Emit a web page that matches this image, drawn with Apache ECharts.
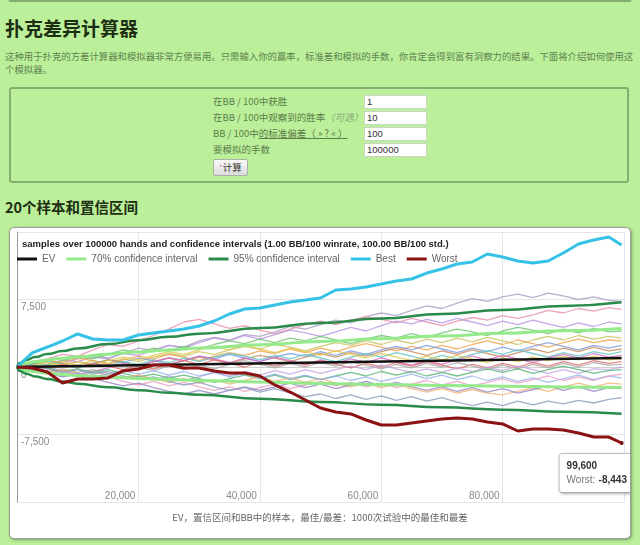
<!DOCTYPE html>
<html><head><meta charset="utf-8">
<script src="https://cdn.jsdelivr.net/npm/echarts@6/dist/echarts.min.js"></script>
<style>
html,body{margin:0;padding:0;}
body{width:640px;height:545px;overflow:hidden;position:relative;background:#bbef99;font-family:'Liberation Sans','Noto Sans CJK SC',sans-serif;}
.topline{position:absolute;left:8px;top:-4px;width:620px;height:2px;border:2px solid #86ad70;border-radius:3px;}
h1{position:absolute;left:5px;top:16px;margin:0;font:bold 19px/24px 'Noto Sans CJK SC',sans-serif;color:#1d2e12;}
.intro{position:absolute;left:5px;top:50px;margin:0;font:9.4px/13px 'Noto Sans CJK SC',sans-serif;color:#5f8350;white-space:nowrap;}
.form{position:absolute;left:9px;top:87px;width:616px;height:92px;border:2px solid #86ad70;border-radius:3px;}
.lbl{position:absolute;left:213px;font:9.5px/13px 'Noto Sans CJK SC',sans-serif;color:#5b7d4a;white-space:nowrap;}
.lbl i{color:#8aa67a;}
.lbl u{text-decoration:underline;}
.inp{position:absolute;left:364px;width:59px;height:12px;background:#fff;border:1px solid #c9d6c2;font:9.5px/12px 'Liberation Sans',sans-serif;color:#333;padding-left:2px;}
.btn{position:absolute;left:213px;top:159px;width:33px;height:15px;border:1px solid #a9b3a4;border-radius:2px;background:linear-gradient(#f8f8f8,#dcdcdc);font:9.5px/15px 'Noto Sans CJK SC',sans-serif;color:#333;text-align:center;}
.btn span{color:#d08090;font-size:7px;vertical-align:top;}
h2{position:absolute;left:5px;top:197px;margin:0;font:bold 14.5px/20px 'Noto Sans CJK SC',sans-serif;color:#1d2e12;}
.cbox{position:absolute;left:9px;top:227px;width:620px;height:310px;background:#fff;border:1px solid #9c9c9c;border-radius:5px;box-shadow:1px 1px 3px rgba(0,0,0,.35);}
#chart{position:absolute;left:0;top:0;width:620px;height:310px;}
</style></head>
<body>
<div class="topline"></div>
<h1>扑克差异计算器</h1>
<p class="intro">这种用于扑克的方差计算器和模拟器非常方便易用。只需输入你的赢率，标准差和模拟的手数，你肯定会得到富有洞察力的结果。下面将介绍如何使用这<br>个模拟器。</p>
<div class="form"></div>
<div class="lbl" style="top:95px">在BB / 100中获胜</div>
<div class="lbl" style="top:111px">在BB / 100中观察到的胜率<i>（可选）</i></div>
<div class="lbl" style="top:127px">BB / 100中<u>的标准偏差（ » ? « ）</u></div>
<div class="lbl" style="top:143px">要模拟的手数</div>
<div class="inp" style="top:95px">1</div>
<div class="inp" style="top:111px">10</div>
<div class="inp" style="top:127px">100</div>
<div class="inp" style="top:143px">100000</div>
<div class="btn"><span>*</span>计算</div>
<h2>20个样本和置信区间</h2>
<div class="cbox"><div id="chart"></div></div>
<script>
const CHART_TITLE = 'samples over 100000 hands and confidence intervals (1.00 BB/100 winrate, 100.00 BB/100 std.)';
const CAPTION = 'EV，置信区间和BB中的样本，最佳/最差：1000次试验中的最佳和最差';
const LEGEND_NAMES = ['EV', '70% confidence interval', '95% confidence interval', 'Best', 'Worst'];

const HANDS = [0,2500,5000,7500,10000,12500,15000,17500,20000,22500,25000,27500,30000,32500,35000,37500,40000,42500,45000,47500,50000,52500,55000,57500,60000,62500,65000,67500,70000,72500,75000,77500,80000,82500,85000,87500,90000,92500,95000,97500,99600];

const BEST = [0,1560,2220,2890,3670,3110,3000,3000,3560,3780,4000,4220,4560,5110,5890,6440,6560,6890,7220,7440,7670,8560,8670,8890,9220,9560,9780,10440,10890,11440,11670,12560,12220,11780,11560,11780,12670,13670,14110,14440,13560];
const WORST = [0,-110,-560,-1780,-1330,-1330,-1220,-440,-220,220,220,-110,-110,-440,-670,-670,-1000,-2000,-2780,-3670,-4560,-5000,-5220,-5890,-6440,-6440,-6220,-6000,-5780,-5670,-5780,-6110,-6330,-7110,-6890,-6890,-7000,-7330,-7780,-7780,-8443];

const EV_HANDS = [0, 99600];
const EV = [0, 996];

const CI_HANDS = [0,500,1500,3000,5000,7500,10000,15000,20000,25000,30000,40000,50000,60000,70000,80000,90000,99600];
const CI95_UPPER = [0,444,774,1104,1436,1772,2060,2551,2971,3349,3695,4320,4883,5400,5886,6343,6780,7182];
const CI95_LOWER = [0,-434,-744,-1044,-1336,-1622,-1860,-2251,-2571,-2849,-3095,-3520,-3883,-4200,-4486,-4743,-4980,-5190];
const CI70_UPPER = [0,238,417,600,785,976,1140,1424,1671,1894,2101,2480,2825,3147,3452,3741,4020,4278];
const CI70_LOWER = [0,-228,-387,-540,-685,-826,-940,-1124,-1271,-1394,-1501,-1680,-1825,-1947,-2052,-2141,-2220,-2286];

const S01 = [0,300,700,400,900,1300,1000,1500,2100,1800,2400,2200,2900,3300,3000,3600,3400,3900,4500,4200,4700,5200,4900,5600,6000,5700,6300,6800,6500,7100,7600,7300,7800,8100,7700,8200,7900,7500,7800,7400,7300];
const S02 = [0,500,900,1400,1200,1900,2500,2300,2900,3500,4200,5000,5300,4800,4300,4600,4100,3700,4200,4700,5100,4700,5200,5600,5300,4900,5400,5000,4600,5100,5500,5200,5700,5400,5800,6300,6000,6500,6200,6600,6400];
const S03 = [0,-200,300,800,600,1100,900,1500,1300,1900,2400,2100,2700,3200,2900,3500,3100,3600,4100,3800,3400,3900,4400,4000,4600,5100,4800,5300,4900,5400,5000,4600,5100,4700,5200,4800,4400,4900,4500,5000,4800];
const S04 = [0,400,200,700,1100,900,1400,1900,1600,2100,1800,2300,2000,2500,2900,2600,3100,2700,3200,2900,3400,3000,2600,3100,3500,3200,3700,3300,3800,4200,3900,3500,4000,4400,4100,3700,4200,3800,4300,3900,4000];
const S05 = [0,-300,100,500,200,700,400,900,600,1100,1500,1200,1700,1400,1900,2300,2000,2500,2200,1800,2300,2700,2400,2900,2500,3000,2600,3100,2700,3200,2800,3300,2900,2500,3000,3400,3000,3500,3100,3400,3200];
const S06 = [0,300,700,500,1000,700,300,800,1200,900,1400,1100,700,1200,1600,1300,1800,1500,2000,1600,2100,1700,2200,2600,2200,1800,2300,1900,2400,2000,2500,2900,2500,3000,2600,2200,2700,3100,2700,3000,2900];
const S07 = [0,-400,-100,300,-100,400,800,500,1000,700,300,700,1200,900,1400,1000,600,1100,1500,1200,1700,1300,1800,1400,1900,2300,1900,2400,2000,1600,2100,1700,2200,1800,2300,2700,2300,1900,2400,2100,2400];
const S08 = [0,200,-200,200,600,300,800,500,100,600,1000,700,1100,800,400,900,1300,1000,600,1100,1500,1100,1600,1200,1700,2100,1700,1300,1800,1400,1900,1500,1100,1600,2000,1600,2100,1700,2200,1800,2000];
const S09 = [0,300,600,300,-100,400,100,600,300,800,500,1000,600,1100,1500,1200,800,1300,900,1400,1000,600,1100,1500,1100,1600,1200,800,1300,900,1400,1800,1400,1900,1500,1100,1600,1200,1700,1400,1700];
const S10 = [0,-300,-700,-400,-900,-500,-100,400,100,600,1000,700,1200,900,500,1000,600,1100,700,300,800,400,900,500,1000,600,200,700,300,800,1200,800,1300,900,500,1000,1400,1000,1500,1100,1300];
const S11 = [0,200,500,200,600,300,700,1100,800,1300,1700,1400,1900,2300,1900,2400,2000,1600,2100,1700,1300,1800,1400,1000,1500,1100,700,1200,800,1300,900,500,1000,600,1100,700,1200,800,1200,800,900];
const S12 = [0,200,-100,300,0,400,100,-300,200,-200,300,700,300,800,400,0,500,100,600,200,700,300,-100,400,0,500,100,600,200,-200,300,-100,400,0,500,100,600,200,700,400,600];
const S13 = [0,-200,-500,-200,-600,-300,-700,-400,0,-400,100,-300,200,-200,300,700,300,-100,400,0,500,100,600,200,-200,300,-100,400,0,500,100,-300,200,-200,300,-100,400,0,500,200,300];
const S14 = [0,-300,0,-400,-800,-500,-900,-1300,-900,-1400,-1000,-1500,-1100,-600,-1000,-500,-900,-400,-800,-300,-700,-300,100,-300,200,-200,-600,-200,-600,-100,-500,0,-400,100,-300,-700,-300,-700,-200,-300,0];
const S15 = [0,200,-100,-500,-200,-600,-300,-700,-1100,-800,-1200,-900,-1300,-1700,-1300,-900,-1300,-900,-1400,-1000,-1400,-1000,-600,-1000,-500,-900,-500,-1000,-600,-1000,-600,-200,-600,-200,-700,-300,100,-300,-700,-400,-300];
const S16 = [0,-300,-600,-300,-700,-1100,-800,-1200,-900,-1300,-1700,-1300,-1800,-1400,-1900,-1500,-1100,-1600,-1200,-1700,-1300,-1800,-2200,-1800,-2300,-1900,-2400,-2800,-2400,-2900,-2500,-2900,-3100,-2700,-2300,-2700,-2200,-1800,-2200,-1800,-1900];
const S17 = [0,-200,-600,-1000,-700,-1100,-800,-400,-800,-400,-900,-500,-1000,-600,-1100,-700,-1200,-800,-1300,-900,-1400,-1000,-1500,-1100,-1600,-1200,-800,-1300,-900,-1400,-1000,-1500,-1100,-1600,-1200,-1700,-1300,-900,-1400,-1000,-1200];
const S18 = [0,-400,-800,-500,-1000,-1400,-1100,-1600,-2000,-1600,-2100,-1700,-2200,-2600,-2200,-2700,-2300,-1900,-2400,-2000,-1600,-2100,-1700,-2200,-1800,-2300,-1900,-1500,-2000,-1600,-2100,-1700,-1300,-1800,-1400,-1000,-1500,-1100,-1500,-1000,-800];
const S19 = [0,-300,-700,-1100,-800,-1300,-1700,-2100,-1800,-2300,-2700,-3000,-2600,-3000,-2600,-2200,-2600,-2200,-1800,-2300,-1900,-2400,-2000,-1600,-2100,-1700,-2200,-2600,-2200,-2700,-2300,-2800,-2400,-2900,-2500,-2100,-2600,-2200,-2700,-2300,-2400];
const S20 = [0,200,-200,-600,-300,-800,-500,-1000,-1400,-1100,-1600,-2000,-1700,-2200,-2600,-2300,-2800,-2400,-2900,-3300,-3000,-3500,-3100,-3600,-3200,-3700,-3300,-3800,-3400,-3900,-4300,-3900,-4300,-3800,-4200,-3800,-4100,-3700,-4000,-3600,-3400];

const SAMPLES = [S01,S02,S03,S04,S05,S06,S07,S08,S09,S10,S11,S12,S13,S14,S15,S16,S17,S18,S19,S20];
const SAMPLE_COLORS = ['#a89cc0','#e58fa6','#b693e0','#6cc46c','#c6c25a','#f0a24e','#7c9ae0','#c48a5e','#5ec2c0','#d46fc8','#e2c84c','#e06a6a','#a6a6a6','#c4a2e4','#54b474','#f2b272','#94b2ea','#ee9ec0','#9484c4','#8a9aba'];

const pair = (xs, ys) => xs.map((x, i) => [x, ys[i]]);
const fmt = v => v.toLocaleString('en-US');

const series = [];
SAMPLES.forEach((s, k) => {
  series.push({type:'line', name:'sample' + (k+1), data: pair(HANDS, s), showSymbol:false, silent:true,
    lineStyle:{width:1.3, color:SAMPLE_COLORS[k], opacity:0.8}, itemStyle:{color:SAMPLE_COLORS[k]}, z:2});
});
[CI70_UPPER, CI70_LOWER].forEach(arr => series.push({type:'line', name:'70% confidence interval', data: pair(CI_HANDS, arr),
  showSymbol:false, silent:true, smooth:true, smoothMonotone:'x', lineStyle:{width:3, color:'#94ea8a'}, itemStyle:{color:'#94ea8a'}, z:3}));
[CI95_UPPER, CI95_LOWER].forEach(arr => series.push({type:'line', name:'95% confidence interval', data: pair(CI_HANDS, arr),
  showSymbol:false, silent:true, smooth:true, smoothMonotone:'x', lineStyle:{width:2.5, color:'#2a8a4a'}, itemStyle:{color:'#2a8a4a'}, z:4}));
series.push({type:'line', name:'EV', data: pair(EV_HANDS, EV), showSymbol:false, silent:true, lineStyle:{width:2.5, color:'#111'}, itemStyle:{color:'#111'}, z:5});
series.push({type:'line', name:'Best', data: pair(HANDS, BEST), showSymbol:false, silent:true, lineStyle:{width:3, color:'#35c2e6'}, itemStyle:{color:'#35c2e6'}, z:6});
const lastI = HANDS.length - 1;
series.push({type:'line', name:'Worst', data: pair(HANDS, WORST), showSymbol:false, silent:true, lineStyle:{width:3, color:'#8a1212'}, itemStyle:{color:'#8a1212'}, z:7,
  markPoint:{symbol:'circle', symbolSize:4, itemStyle:{color:'#6a0808'}, silent:true,
    data:[{coord:[HANDS[lastI], WORST[lastI]]}],
    label:{show:true, position:'inside', offset:[-62, 30], align:'left',
      formatter: () => '{a|' + fmt(HANDS[lastI]) + '}\n{b|Worst:} {c|' + fmt(WORST[lastI]) + '}',
      backgroundColor:'#fff', borderColor:'#c8c8c8', borderWidth:1, borderRadius:3, padding:[5,7,5,7],
      shadowBlur:3, shadowColor:'rgba(0,0,0,0.25)', shadowOffsetX:1, shadowOffsetY:1,
      rich:{a:{fontSize:10, fontWeight:'bold', color:'#333', lineHeight:14, fontFamily:'Liberation Sans'},
            b:{fontSize:10, color:'#777', lineHeight:14, fontFamily:'Liberation Sans'},
            c:{fontSize:10, fontWeight:'bold', color:'#333', lineHeight:14, fontFamily:'Liberation Sans'}}}}});

const chart = echarts.init(document.getElementById('chart'), null, {renderer:'canvas'});
chart.setOption({
  animation:false,
  backgroundColor:'transparent',
  textStyle:{fontFamily:'Liberation Sans'},
  title:[
    {text:CHART_TITLE, left:12, top:11, padding:0, textStyle:{fontSize:9.5, fontWeight:'bold', color:'#222', fontFamily:'Liberation Sans'}},
    {text:CAPTION, left:'center', top:280, textStyle:{fontSize:9.5, fontWeight:'normal', color:'#666', fontFamily:'Noto Sans CJK SC'}}
  ],
  legend:{left:7, top:26, padding:0, itemWidth:20, itemHeight:3, itemGap:11, icon:'rect', selectedMode:false, data:LEGEND_NAMES,
    textStyle:{fontSize:10, color:'#666', fontFamily:'Liberation Sans'}},
  grid:{left:7, right:6, top:4, bottom:36, containLabel:false},
  xAxis:{type:'value', min:0, max:100000, interval:20000,
    axisLine:{show:true, lineStyle:{color:'#cfcfcf'}}, axisTick:{show:false},
    splitLine:{show:true, lineStyle:{color:'#e6e6e6'}},
    axisLabel:{inside:true, margin:1, align:'right', padding:[0,3,0,0], color:'#8a8a8a', fontSize:10,
      formatter: v => (v > 0 && v < 100000) ? fmt(v) : ''}},
  yAxis:{type:'value', min:-15000, max:15000, interval:7500,
    axisLine:{show:true, lineStyle:{color:'#9a9a9a'}}, axisTick:{show:false},
    splitLine:{show:true, lineStyle:{color:'#e6e6e6'}},
    axisLabel:{inside:true, margin:4, verticalAlign:'top', padding:[3,0,0,0], color:'#8a8a8a', fontSize:10,
      formatter: v => Math.abs(v) < 15000 ? fmt(v) : ''}},
  series: series
});
</script>
</body></html>
